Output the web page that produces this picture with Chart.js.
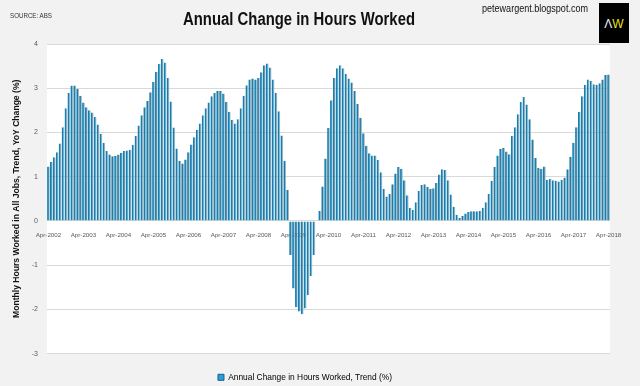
<!DOCTYPE html>
<html>
<head>
<meta charset="utf-8">
<script src="https://cdn.jsdelivr.net/npm/chart.js@4.4.1/dist/chart.umd.min.js"></script>
<style>
  html, body { margin: 0; padding: 0; background: #f2f2f2; }
  #wrap { position: relative; width: 640px; height: 386px; overflow: hidden; }
  #hoursChart { position: absolute; left: 0; top: 0; }
  .label { font-family: "Liberation Sans", Arial, sans-serif; position: absolute; white-space: nowrap; transform-origin: left top; }
  #title { left: 183px; top: 9px; font-size: 18px; font-weight: bold; color: #111; }
  #source { left: 10px; top: 11px; font-size: 7.5px; color: #333; }
  #site { left: 482px; top: 2px; font-size: 10.5px; color: #111; }
  #logo { position: absolute; left: 599px; top: 3px; width: 30px; height: 40px; background: #000; font-family: "Liberation Sans", sans-serif; font-size: 12px; line-height: 42px; text-align: center; }
  #logo .a { color: #f0f0f0; }
  #logo .w { color: #e6e21c; }
</style>
</head>
<body>
<div id="wrap">
  <canvas id="hoursChart" width="640" height="386"></canvas>
  <div id="source" class="label">SOURCE: ABS</div>
  <div id="title" class="label">Annual Change in Hours Worked</div>
  <div id="site" class="label">petewargent.blogspot.com</div>
  <div id="logo"><span class="a">&Lambda;</span><span class="w">W</span></div>
</div>
<script>
// month order of each block: Apr .. Mar
const monthNames = ["Apr", "May", "Jun", "Jul", "Aug", "Sep", "Oct", "Nov", "Dec", "Jan", "Feb", "Mar"];
const tickLabels = ["Apr-2002", "Apr-2003", "Apr-2004", "Apr-2005", "Apr-2006", "Apr-2007", "Apr-2008", "Apr-2009",
  "Apr-2010", "Apr-2011", "Apr-2012", "Apr-2013", "Apr-2014", "Apr-2015", "Apr-2016", "Apr-2017", "Apr-2018"];
const yTicks = [-3, -2, -1, 0, 1, 2, 3, 4];

// annual change in hours worked, trend (%), Apr of each year to Mar of the next
const yr2002 = [1.23, 1.33, 1.44, 1.55, 1.75, 2.12, 2.55, 2.89, 3.06, 3.06, 2.98, 2.83];
const yr2003 = [2.68, 2.57, 2.50, 2.45, 2.35, 2.18, 1.97, 1.77, 1.58, 1.50, 1.46, 1.47];
const yr2004 = [1.50, 1.54, 1.58, 1.59, 1.61, 1.72, 1.92, 2.16, 2.39, 2.57, 2.71, 2.91];
const yr2005 = [3.14, 3.37, 3.55, 3.66, 3.58, 3.23, 2.70, 2.11, 1.64, 1.36, 1.30, 1.39];
const yr2006 = [1.55, 1.73, 1.89, 2.06, 2.20, 2.39, 2.55, 2.68, 2.82, 2.89, 2.94, 2.94];
const yr2007 = [2.88, 2.69, 2.47, 2.29, 2.20, 2.30, 2.55, 2.83, 3.07, 3.20, 3.22, 3.20];
const yr2008 = [3.23, 3.36, 3.52, 3.56, 3.47, 3.20, 2.90, 2.48, 1.93, 1.36, 0.70, -0.77];
const yr2009 = [-1.53, -1.95, -2.05, -2.11, -1.98, -1.68, -1.25, -0.77, 0, 0.23, 0.78, 1.41];
const yr2010 = [2.10, 2.73, 3.23, 3.45, 3.52, 3.45, 3.33, 3.22, 3.13, 2.94, 2.65, 2.33];
const yr2011 = [1.98, 1.70, 1.53, 1.48, 1.48, 1.38, 1.10, 0.73, 0.55, 0.61, 0.83, 1.07];
const yr2012 = [1.22, 1.18, 0.92, 0.58, 0.29, 0.25, 0.42, 0.68, 0.81, 0.83, 0.77, 0.73];
const yr2013 = [0.74, 0.86, 1.05, 1.17, 1.15, 0.92, 0.60, 0.32, 0.14, 0.07, 0.11, 0.17];
const yr2014 = [0.20, 0.22, 0.22, 0.22, 0.23, 0.30, 0.42, 0.61, 0.90, 1.22, 1.48, 1.63];
const yr2015 = [1.65, 1.57, 1.51, 1.92, 2.12, 2.41, 2.69, 2.80, 2.63, 2.30, 1.84, 1.42];
const yr2016 = [1.20, 1.18, 1.23, 0.93, 0.95, 0.92, 0.91, 0.89, 0.93, 0.98, 1.17, 1.45];
const yr2017 = [1.77, 2.12, 2.46, 2.82, 3.08, 3.20, 3.17, 3.09, 3.08, 3.11, 3.20, 3.30];
const yr2018 = [3.31];

const hoursWorked = [].concat(yr2002, yr2003, yr2004, yr2005, yr2006, yr2007, yr2008, yr2009,
  yr2010, yr2011, yr2012, yr2013, yr2014, yr2015, yr2016, yr2017, yr2018);

const categories = hoursWorked.map((_, i) => {
  const year = 2002 + Math.floor((i + 3) / 12);
  return `${monthNames[i % 12]}-${year}`;
});

const SANS = "'Liberation Sans', Arial, sans-serif";

// the original uses a narrow face; squeeze the html labels to the same widths
function fitWidth(id, width) {
  const el = document.getElementById(id);
  const w = el.getBoundingClientRect().width;
  if (w > 0) {
    el.style.transform = `scaleX(${width / w})`;
  }
}
fitWidth("title", 232);
fitWidth("source", 42);
fitWidth("site", 106);

// white plot area on the grey page
const plotBackground = {
  id: "plotBackground",
  beforeDraw(chart) {
    const { ctx, chartArea } = chart;
    ctx.save();
    ctx.fillStyle = "#ffffff";
    ctx.fillRect(chartArea.left, chartArea.top, chartArea.width, chartArea.height);
    ctx.restore();
  }
};

new Chart(document.getElementById("hoursChart"), {
  type: "bar",
  data: {
    labels: categories,
    datasets: [{
      label: "Annual Change in Hours Worked, Trend (%)",
      data: hoursWorked,
      backgroundColor: "#137fb2",
      borderColor: "#a9b6bb",
      borderWidth: { top: 0, right: 1, bottom: 0, left: 0 },
      categoryPercentage: 1,
      barPercentage: 0.94
    }]
  },
  plugins: [plotBackground],
  options: {
    responsive: false,
    animation: false,
    layout: { padding: { top: 44, right: 30, bottom: -5.5, left: 0 } },
    plugins: {
      tooltip: { enabled: false },
      legend: {
        position: "bottom",
        labels: {
          boxWidth: 6,
          boxHeight: 6,
          padding: 19.5,
          color: "#111",
          font: { family: SANS, size: 8.4 },
          generateLabels: (chart) => [{
            text: chart.data.datasets[0].label,
            fillStyle: "#2aa0d8",
            strokeStyle: "#135f8c",
            lineWidth: 1,
            datasetIndex: 0
          }]
        }
      }
    },
    scales: {
      x: {
        position: { y: 0 },
        z: 1,
        grid: { display: false },
        border: { display: false },
        ticks: {
          autoSkip: false,
          maxRotation: 0,
          minRotation: 0,
          padding: 3,
          color: "#595959",
          font: { family: SANS, size: 6.2 },
          callback: function (value) {
            const label = this.getLabelForValue(value);
            return tickLabels.includes(label) ? label : "";
          }
        }
      },
      y: {
        min: yTicks[0],
        max: yTicks[yTicks.length - 1],
        afterFit: (scale) => { scale.width = 47; },
        afterBuildTicks: (scale) => { scale.ticks = yTicks.map((v) => ({ value: v })); },
        grid: { color: "#d9d9d9", drawTicks: false },
        border: { display: false },
        ticks: {
          padding: 9,
          color: "#595959",
          font: { family: SANS, size: 7 }
        },
        title: {
          display: true,
          text: "Monthly Hours Worked in All Jobs, Trend, YoY Change (%)",
          color: "#111",
          font: { family: SANS, size: 8.6, weight: "bold" },
          padding: { top: 11, bottom: 0 }
        }
      }
    }
  }
});
</script>
</body>
</html>
